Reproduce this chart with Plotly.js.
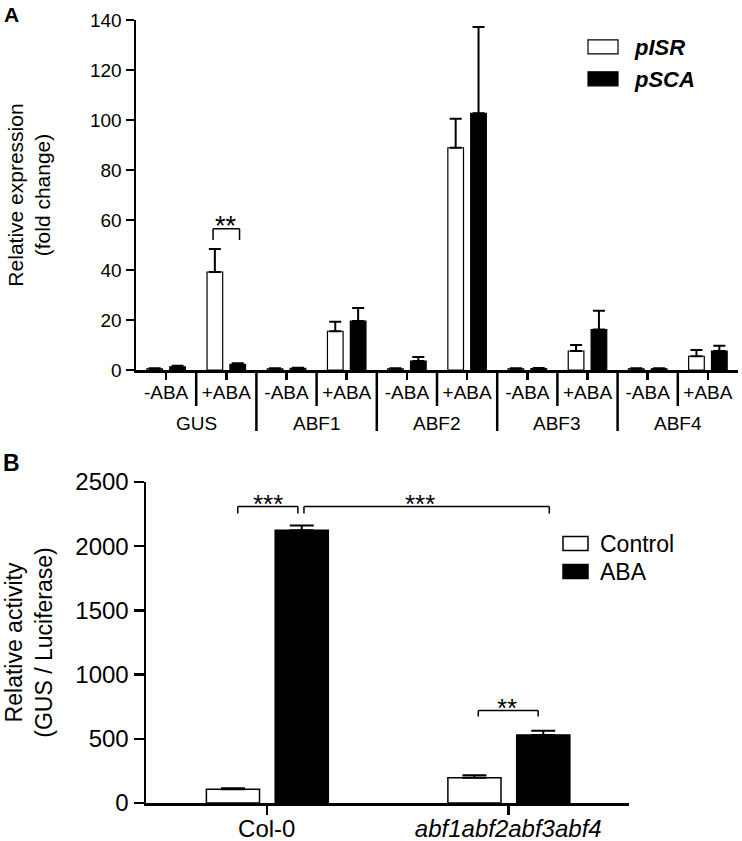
<!DOCTYPE html>
<html>
<head>
<meta charset="utf-8">
<script src="https://cdn.plot.ly/plotly-3.0.1.min.js"></script>
<style>html,body{margin:0;padding:0;background:#fff;}#chart{width:742px;height:841px;}</style>
</head>
<body>
<div id="chart"></div>
<script>
// ---------- Panel A data ----------
const groupsA = ['GUS', 'ABF1', 'ABF2', 'ABF3', 'ABF4'];
const condsA = ['-ABA', '+ABA'];
const pISR = [0.5, 39.2, 0.5, 15.5, 0.5, 88.9, 0.5, 7.6, 0.5, 5.5];
const pISR_err = [0.2, 9.2, 0.2, 3.8, 0.2, 11.6, 0.2, 2.4, 0.2, 2.5];
const pSCA = [1.3, 2.3, 0.7, 19.6, 3.6, 102.7, 0.6, 16.2, 0.5, 7.6];
const pSCA_err = [0.4, 0.4, 0.2, 5.2, 1.6, 34.5, 0.2, 7.5, 0.2, 2.1];

// ---------- Panel B data ----------
const genotypesB = ['Col-0', 'abf1abf2abf3abf4'];
const genotypeTextB = ['Col-0', '<i>abf1abf2abf3abf4</i>'];
const controlB = [107, 197];
const controlB_err = [8, 20];
const abaB = [2124, 530];
const abaB_err = [37, 32];

const FONT = 'Arial, "Liberation Sans", Helvetica, sans-serif';
const W = 742, H = 841;
const py = p => (H - p) / H;   // pixel row -> paper y
const px = p => p / W;         // pixel col -> paper x

const catsA = [];
const tickTextA = [];
groupsA.forEach(g => condsA.forEach(c => { catsA.push(g + ' ' + c); tickTextA.push(c); }));
const zerosA = catsA.map(() => 0);
const zerosB = genotypesB.map(() => 0);

const traces = [
  {
    type: 'bar', name: 'pISR', x: catsA, y: pISR, xaxis: 'x', yaxis: 'y', legend: 'legend',
    width: 0.26, offset: -0.32,
    marker: {color: '#ffffff', line: {color: '#000', width: 1.2}},
    error_y: {type: 'data', symmetric: false, array: pISR_err, arrayminus: zerosA, color: '#000', thickness: 2, width: 6}
  },
  {
    type: 'bar', name: 'pSCA', x: catsA, y: pSCA, xaxis: 'x', yaxis: 'y', legend: 'legend3',
    width: 0.26, offset: 0.06,
    marker: {color: '#000000', line: {color: '#000', width: 1.2}},
    error_y: {type: 'data', symmetric: false, array: pSCA_err, arrayminus: zerosA, color: '#000', thickness: 2, width: 6}
  },
  {
    type: 'bar', name: 'Control', x: genotypesB, y: controlB, xaxis: 'x2', yaxis: 'y2', legend: 'legend2',
    width: 0.22, offset: -0.25,
    marker: {color: '#ffffff', line: {color: '#000', width: 1.5}},
    error_y: {type: 'data', symmetric: false, array: controlB_err, arrayminus: zerosB, color: '#000', thickness: 2, width: 12}
  },
  {
    type: 'bar', name: 'ABA', x: genotypesB, y: abaB, xaxis: 'x2', yaxis: 'y2', legend: 'legend4',
    width: 0.22, offset: 0.035,
    marker: {color: '#000000', line: {color: '#000', width: 1.5}},
    error_y: {type: 'data', symmetric: false, array: abaB_err, arrayminus: zerosB, color: '#000', thickness: 2, width: 12}
  }
];

const shapes = [];
// separators under panel A x axis
for (let i = 0; i < catsA.length - 1; i++) {
  const within = (i % 2 === 0);
  shapes.push({type: 'line', xref: 'x', yref: 'paper', x0: i + 0.5, x1: i + 0.5,
    y0: py(370), y1: py(within ? 406 : 431), line: {color: '#000', width: 2.5}});
}
// significance brackets
function bracket(xref, yref, xa, xb, ytop, ybot, w) {
  shapes.push({type: 'line', xref, yref, x0: xa, x1: xb, y0: ytop, y1: ytop, line: {color: '#000', width: w}});
  shapes.push({type: 'line', xref, yref, x0: xa, x1: xa, y0: ybot, y1: ytop, line: {color: '#000', width: w}});
  shapes.push({type: 'line', xref, yref, x0: xb, x1: xb, y0: ybot, y1: ytop, line: {color: '#000', width: w}});
}
bracket('x', 'y', 1 - 0.22, 1 + 0.22, 56.5, 52, 1.5);
bracket('x2', 'y2', -0.12, 0.129, 2309, 2254, 1.5);
bracket('x2', 'y2', 0.154, 1.17, 2309, 2254, 1.5);
bracket('x2', 'y2', 0.876, 1.124, 720, 673, 1.5);

const annotations = [
  {text: '<b>A</b>', xref: 'paper', yref: 'paper', x: px(2), y: py(1), xanchor: 'left', yanchor: 'top', showarrow: false, font: {family: FONT, size: 21, color: '#000'}},
  {text: '<b>B</b>', xref: 'paper', yref: 'paper', x: px(1), y: py(448), xanchor: 'left', yanchor: 'top', showarrow: false, font: {family: FONT, size: 23, color: '#000'}},
  {text: '**', xref: 'x', yref: 'y', x: 1, y: 57.5, xanchor: 'center', yanchor: 'middle', showarrow: false, font: {family: FONT, size: 27, color: '#000'}},
  {text: '***', xref: 'x2', yref: 'y2', x: 0.004, y: 2330, xanchor: 'center', yanchor: 'middle', showarrow: false, font: {family: FONT, size: 26, color: '#000'}},
  {text: '***', xref: 'x2', yref: 'y2', x: 0.636, y: 2330, xanchor: 'center', yanchor: 'middle', showarrow: false, font: {family: FONT, size: 26, color: '#000'}},
  {text: '**', xref: 'x2', yref: 'y2', x: 0.993, y: 740, xanchor: 'center', yanchor: 'middle', showarrow: false, font: {family: FONT, size: 26, color: '#000'}}
];
groupsA.forEach((g, gi) => {
  annotations.push({text: g, xref: 'x', yref: 'paper', x: gi * 2 + 0.5, y: py(423), xanchor: 'center', yanchor: 'middle',
    showarrow: false, font: {family: FONT, size: 19, color: '#000'}});
});

const axisCommon = {
  showline: true, linecolor: '#000', linewidth: 2.5, showgrid: false, zeroline: false,
  ticks: 'outside', tickcolor: '#000', tickwidth: 2.5, mirror: false
};

const legendA = {xanchor: 'left', yanchor: 'top', bgcolor: 'rgba(0,0,0,0)', borderwidth: 0,
  itemwidth: 54, font: {family: FONT, size: 22, color: '#000', weight: 'bold', style: 'italic'}};
const legendB = {xanchor: 'left', yanchor: 'top', bgcolor: 'rgba(0,0,0,0)', borderwidth: 0,
  itemwidth: 39, font: {family: FONT, size: 23, color: '#000'}};

const layout = {
  width: W, height: H,
  margin: {l: 0, r: 0, t: 0, b: 0},
  paper_bgcolor: '#fff', plot_bgcolor: 'rgba(0,0,0,0)',
  font: {family: FONT, color: '#000'},
  showlegend: true,
  xaxis: Object.assign({}, axisCommon, {
    domain: [px(136), px(738)], anchor: 'y', type: 'category', range: [-0.5, 9.5],
    tickvals: catsA, ticktext: tickTextA, ticklen: 7, ticklabelstandoff: -3,
    tickfont: {family: FONT, size: 19, color: '#000'}
  }),
  yaxis: Object.assign({}, axisCommon, {
    domain: [py(370), py(20)], anchor: 'x', range: [0, 140], tickvals: [0, 20, 40, 60, 80, 100, 120, 140],
    ticklen: 8, tickfont: {family: FONT, size: 19, color: '#000'},
    title: {text: 'Relative expression<br>(fold change)', font: {family: FONT, size: 21, color: '#000'}, standoff: 34}
  }),
  xaxis2: Object.assign({}, axisCommon, {
    domain: [px(146), px(629)], anchor: 'y2', type: 'category', range: [-0.5, 1.5],
    tickvals: genotypesB, ticktext: genotypeTextB, ticklen: 9, ticklabelstandoff: -6,
    tickfont: {family: FONT, size: 24, color: '#000'}
  }),
  yaxis2: Object.assign({}, axisCommon, {
    domain: [py(803), py(482)], anchor: 'x2', range: [0, 2500], tickvals: [0, 500, 1000, 1500, 2000, 2500],
    ticklen: 10, tickfont: {family: FONT, size: 24, color: '#000'},
    title: {text: 'Relative activity<br>(GUS / Luciferase)', font: {family: FONT, size: 23, color: '#000'}, standoff: 17}
  }),
  legend: Object.assign({}, legendA, {x: px(571), y: py(26)}),
  legend3: Object.assign({}, legendA, {x: px(571), y: py(58)}),
  legend2: Object.assign({}, legendB, {x: px(551), y: py(522)}),
  legend4: Object.assign({}, legendB, {x: px(551), y: py(550)}),
  shapes: shapes,
  annotations: annotations
};

Plotly.newPlot('chart', traces, layout, {staticPlot: true, displayModeBar: false}).then(gd => {
  ['.legend', '.legend3'].forEach(s => gd.querySelectorAll(s + ' .legendpoints path').forEach(p => p.setAttribute('d', 'M15,7H-15V-7H15Z')));
  ['.legend2', '.legend4'].forEach(s => gd.querySelectorAll(s + ' .legendpoints path').forEach(p => p.setAttribute('d', 'M12.5,7H-12.5V-7H12.5Z')));
});
</script>
</body>
</html>
